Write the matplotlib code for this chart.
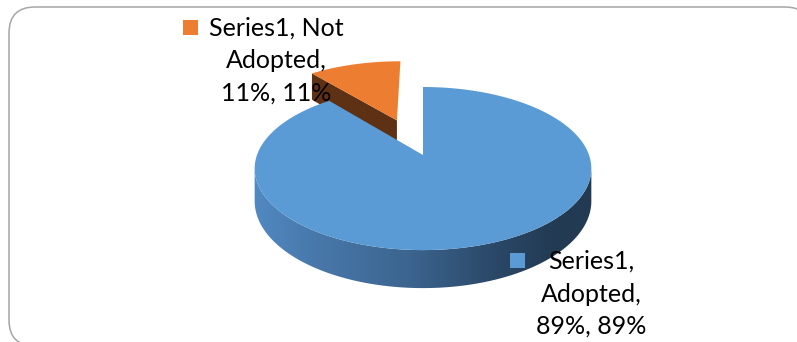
import numpy as np
import matplotlib
matplotlib.use("Agg")
import matplotlib.pyplot as plt
from matplotlib.patches import Polygon, FancyBboxPatch, Rectangle
from matplotlib.colors import LinearSegmentedColormap

# ---- data ----
categories = ["Adopted", "Not Adopted"]
values = [89, 11]
series_name = "Series1"
slice_colors = ["#5B9BD5", "#ED7D31"]
side_colors = ["#4F86BF", "#5E3115"]
explode = [0.0, 0.5]

W, H = 797, 342
fig = plt.figure(figsize=(W / 100, H / 100), dpi=100)
ax = fig.add_axes([0, 0, 1, 1])
ax.set_xlim(0, W)
ax.set_ylim(H, 0)
ax.axis("off")

# chart frame
frame = FancyBboxPatch((9, 7), 802, 339, boxstyle="round,pad=0,rounding_size=26",
                       fc="white", ec="#A6A6A6", lw=1.1, zorder=0)
ax.add_patch(frame)

# perspective projection of the pie disc (u right, w away from viewer)
cx, cy = 423, 155
A, B, k, depth = 166, 79.3, 0.166, 31.7


def proj(u, w, h=0.0):
    den = 1 + k * w
    return cx + A * u / den, cy - B * w / den + depth * h / den


def arc(u0, w0, t0, t1, h=0.0, n=200):
    t = np.radians(np.linspace(t0, t1, n))
    return [proj(u0 + np.cos(a), w0 + np.sin(a), h) for a in t]


# slice angles: start at 12 o'clock, clockwise
total = sum(values)
angles = []
start = 90.0
for v in values:
    sweep = 360.0 * v / total
    angles.append((start, start - sweep))
    start -= sweep

# ---- "Not Adopted" (exploded) slice ----
t0, t1 = angles[1]
mid = np.radians((t0 + t1) / 2)
u0, w0 = explode[1] * np.cos(mid), explode[1] * np.sin(mid)
# radial wall on the leading edge faces the viewer
e = (u0 + np.cos(np.radians(t0)), w0 + np.sin(np.radians(t0)))
quad = [proj(u0, w0), proj(*e), proj(*e, 1), proj(u0, w0, 1)]
ax.add_patch(Polygon(quad, closed=True, fc=side_colors[1], ec="none", zorder=2))
top_orange = [proj(u0, w0)] + arc(u0, w0, t0, t1)
ax.add_patch(Polygon(top_orange, closed=True, fc=slice_colors[1], ec="none", zorder=3))

# ---- "Adopted" slice ----
s0, s1 = angles[0]
# outer wall, visible where it faces the viewer
lim = np.degrees(np.arcsin(k))
wall_top = arc(0, 0, 180 + lim, 360 - lim)
wall_bot = arc(0, 0, 360 - lim, 180 + lim, 1)
wall = Polygon(wall_top + wall_bot, closed=True, fc="none", ec="none", zorder=4)
ax.add_patch(wall)
grad_cmap = LinearSegmentedColormap.from_list(
    "wall", [(0.0, "#5189C2"), (0.2, "#4878AA"), (0.5, "#3C6590"),
             (0.8, "#2A4766"), (1.0, "#223A52")])
gx = np.linspace(0, 1, 256)[None, :]
img = ax.imshow(gx, cmap=grad_cmap, extent=(254, 560, 300, 140), aspect="auto",
                zorder=4, interpolation="bilinear")
img2 = ax.imshow(np.ones((1, 2)), cmap=LinearSegmentedColormap.from_list("d", ["#223A52", "#223A52"]),
                 extent=(559, 600, 300, 140), aspect="auto", zorder=4)
img.set_clip_path(wall)
img2.set_clip_path(wall)

top_blue = [proj(0, 0)] + arc(0, 0, s0, s1, n=600)
ax.add_patch(Polygon(top_blue, closed=True, fc=slice_colors[0], ec="none", zorder=5))

# ---- data labels ----
font = dict(family="Lato", fontsize=18, color="black", ha="center", va="center",
            linespacing=1.5, zorder=8)
pct = [f"{round(100 * v / total)}%" for v in values]
ax.text(276, 61, f"{series_name}, Not\n{categories[1].split()[1]},\n{pct[1]}, {pct[1]}", **font)
ax.add_patch(Rectangle((183, 20), 15, 15, fc=slice_colors[1], ec="none", zorder=8))
ax.text(591, 294, f"{series_name},\n{categories[0]},\n{pct[0]}, {pct[0]}", **font)
ax.add_patch(Rectangle((510, 253), 15, 15, fc=slice_colors[0], ec="none", zorder=8))

fig.savefig("out.png", dpi=100)
